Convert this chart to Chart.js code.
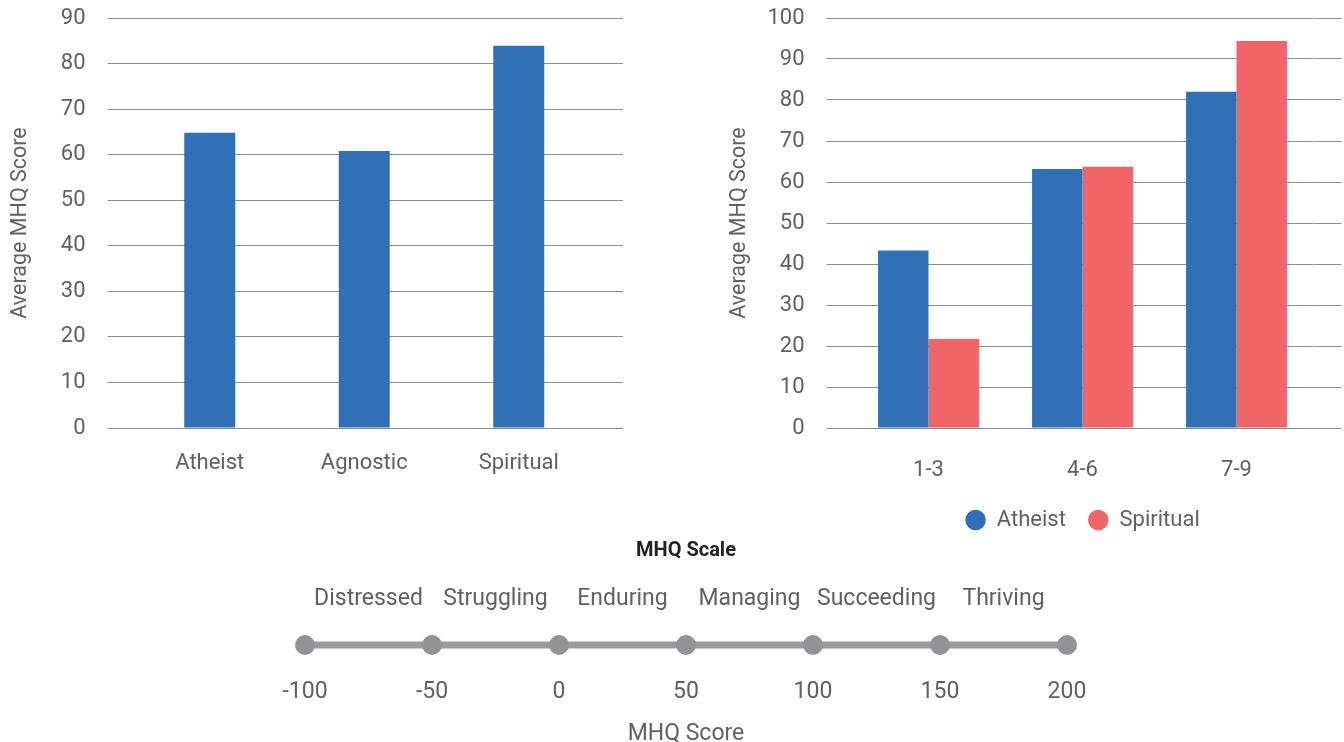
<!DOCTYPE html>
<html>
<head>
<meta charset="utf-8">
<script src="https://cdn.jsdelivr.net/npm/chart.js@4/dist/chart.umd.min.js"></script>
<style>
    html, body { margin: 0; padding: 0; background: #fff; overflow: hidden; }
    body { width: 1344px; height: 742px; position: relative; }
    canvas { position: absolute; }
    #religionChart { left: 0; top: 0; }
    #ageChart { left: 719px; top: 0; }
    #scaleChart { left: 0; top: 530px; }
</style>
</head>
<body>
<canvas id="religionChart" width="640" height="490"></canvas>
<canvas id="ageChart" width="625" height="541"></canvas>
<canvas id="scaleChart" width="1344" height="220"></canvas>
<script>
// Left chart: average score by belief
const beliefLabels = ['Atheist', 'Agnostic', 'Spiritual'];
const beliefScores = [64.8, 60.8, 83.9];

// Right chart: average score by age group band
const groupLabels = ['1-3', '4-6', '7-9'];
const atheistScores = [43.3, 63.2, 82.0];
const spiritualScores = [21.7, 63.7, 94.4];

// Bottom scale
const scaleScores = [-100, -50, 0, 50, 100, 150, 200];
const scaleLevels = ['Distressed', 'Struggling', 'Enduring', 'Managing', 'Succeeding', 'Thriving'];

const BLUE = '#3170b7';
const RED = '#f16468';
const TEXT = '#616161';
const GRID = '#8e8e8e';

Chart.defaults.font.family = 'Roboto';
Chart.defaults.color = TEXT;
Chart.defaults.animation = false;

function valueAxis(max, titleText) {
    return {
        min: 0,
        max: max,
        ticks: { stepSize: 10, padding: 22, font: { size: 22 }, color: TEXT },
        grid: { color: GRID, lineWidth: 1, drawTicks: true, tickLength: 25 },
        border: { display: false },
        title: { display: true, text: titleText, font: { size: 21.5 }, color: TEXT, padding: { top: 8, bottom: 0 } },
        afterFit: function(scale) {
            scale.width = 132.5;
            // tick padding is horizontal here, don't let it push the plot down
            scale.paddingTop = 0;
            scale.paddingBottom = 0;
        }
    };
}

// Second axis on the right only to extend the grid lines past the bars
function rightStub(max, width) {
    return {
        position: 'right',
        min: 0,
        max: max,
        ticks: { display: false, stepSize: 10 },
        grid: { color: GRID, lineWidth: 1, drawOnChartArea: false, drawTicks: true, tickLength: width },
        border: { display: false },
        afterFit: function(scale) {
            scale.width = width;
            scale.paddingTop = 0;
            scale.paddingBottom = 0;
        }
    };
}

new Chart(document.getElementById('religionChart'), {
    type: 'bar',
    data: {
        labels: beliefLabels,
        datasets: [{
            label: 'Average MHQ Score',
            data: beliefScores,
            backgroundColor: BLUE,
            borderWidth: 0,
            barPercentage: 0.33,
            categoryPercentage: 1
        }]
    },
    options: {
        responsive: false,
        layout: { padding: { top: 18, right: 17, left: 0, bottom: 0 } },
        plugins: { legend: { display: false }, tooltip: { enabled: false } },
        scales: {
            x: {
                grid: { display: false, drawTicks: false },
                border: { display: false },
                ticks: { padding: 22, font: { size: 22 }, color: TEXT },
                afterFit: function(scale) { scale.height = 62; }
            },
            y: valueAxis(90, 'Average MHQ Score'),
            y2: rightStub(90, 27)
        }
    }
});

new Chart(document.getElementById('ageChart'), {
    type: 'bar',
    data: {
        labels: groupLabels,
        datasets: [{
            label: 'Atheist',
            data: atheistScores,
            backgroundColor: BLUE,
            borderWidth: 0,
            barPercentage: 1,
            categoryPercentage: 0.655
        }, {
            label: 'Spiritual',
            data: spiritualScores,
            backgroundColor: RED,
            borderWidth: 0,
            barPercentage: 1,
            categoryPercentage: 0.655
        }]
    },
    options: {
        responsive: false,
        layout: { padding: { top: 18, right: 2.5, left: 0, bottom: 0 } },
        plugins: {
            tooltip: { enabled: false },
            legend: {
                position: 'bottom',
                fullSize: false,
                labels: {
                    usePointStyle: true,
                    pointStyle: 'circle',
                    pointStyleWidth: 20.6,
                    boxHeight: 14.6,
                    padding: 22,
                    font: { size: 22 },
                    color: TEXT
                }
            }
        },
        scales: {
            x: {
                grid: { display: false, drawTicks: false },
                border: { display: false },
                ticks: { padding: 29, font: { size: 22 }, color: TEXT },
                afterFit: function(scale) { scale.height = 59; }
            },
            y: valueAxis(100, 'Average MHQ Score'),
            y2: rightStub(100, 28)
        }
    }
});

// midpoints between consecutive scale scores, where the level names sit
const levelPositions = scaleLevels.map((name, i) => (scaleScores[i] + scaleScores[i + 1]) / 2);

new Chart(document.getElementById('scaleChart'), {
    type: 'line',
    data: {
        datasets: [{
            label: 'MHQ Score',
            data: scaleScores.map(v => ({ x: v, y: 0 })),
            borderColor: '#9b9b9f',
            borderWidth: 7,
            pointRadius: 10,
            pointBackgroundColor: '#939397',
            pointBorderWidth: 0,
            clip: false
        }]
    },
    options: {
        responsive: false,
        layout: { padding: { left: 305, right: 277, top: 0, bottom: 0 } },
        plugins: {
            legend: { display: false },
            tooltip: { enabled: false },
            title: {
                display: true,
                text: 'MHQ Scale',
                fullSize: false,
                color: '#222222',
                font: { size: 20, weight: 'bold' },
                padding: { top: 9, bottom: 0 }
            }
        },
        scales: {
            x: {
                type: 'linear',
                min: -100,
                max: 200,
                grid: { display: false, drawTicks: false },
                border: { display: false },
                ticks: { stepSize: 50, padding: 13, autoSkip: false, maxRotation: 0, font: { size: 23 }, color: TEXT },
                title: { display: true, text: 'MHQ Score', font: { size: 23 }, color: TEXT, padding: { top: 0, bottom: 2 } },
                afterFit: function(scale) { scale.height = 85; }
            },
            levels: {
                type: 'linear',
                position: 'top',
                min: -100,
                max: 200,
                grid: { display: false, drawTicks: false },
                border: { display: false },
                afterBuildTicks: function(scale) {
                    scale.ticks = levelPositions.map(v => ({ value: v }));
                },
                ticks: {
                    padding: 12,
                    autoSkip: false,
                    maxRotation: 0,
                    font: { size: 23 },
                    color: TEXT,
                    callback: function(value) {
                        return scaleLevels[levelPositions.indexOf(value)];
                    }
                },
                afterFit: function(scale) { scale.height = 62; }
            },
            y: { display: false, min: -1, max: 1 }
        }
    }
});
</script>
</body>
</html>
